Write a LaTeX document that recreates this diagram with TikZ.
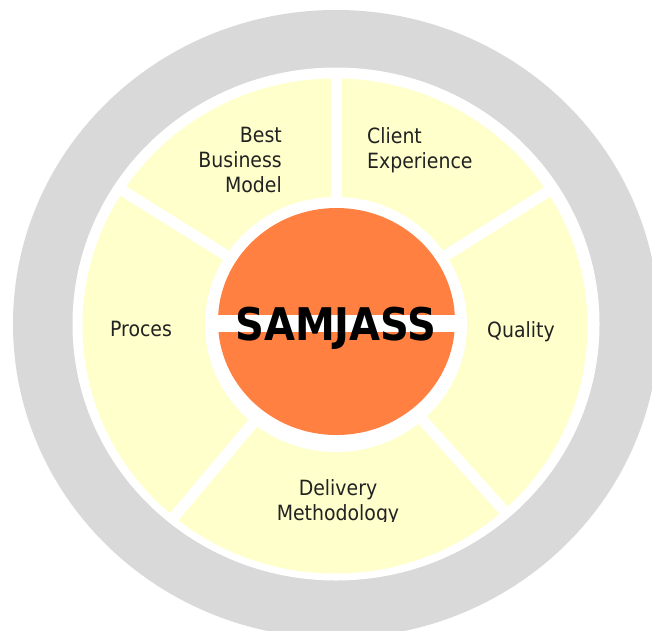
\documentclass[tikz,border=0pt]{standalone}
\usepackage{graphicx}
\usepackage{fontspec}
\setmainfont{DejaVu Sans Condensed}
\newfontfamily\corefont{DejaVu Sans}
\definecolor{ringgrey}{RGB}{217,217,217}
\definecolor{segyellow}{RGB}{255,255,204}
\definecolor{coreorange}{RGB}{255,128,64}
\definecolor{labelgrey}{RGB}{34,34,34}

\begin{document}
\begin{tikzpicture}[x=1pt, y=1pt]
\tikzset{
  seglabel/.style={text=labelgrey, inner sep=0pt, font=\fontsize{21}{25}\selectfont},
  corelabel/.style={text=black, inner sep=0pt, font=\corefont\bfseries\fontsize{45}{45}\selectfont},
  spoke/.style={white, line width=11pt}
}
\useasboundingbox (-336,-306) rectangle (316,324);
\clip (-336,-306) rectangle (316,324);
\fill[white] (-336,-306) rectangle (316,324);

% outer ring and the segment disc
\fill[ringgrey] (0,0) ellipse (323 and 314);
\fill[white] (0,0) ellipse (263.5 and 256.5);
\fill[segyellow] (-1,-2) ellipse (252.5 and 247.5);
\foreach \a in {90,32,-48,-130,148}
  \draw[spoke] (0,0) -- (\a:252);

% core
\fill[white] (0,-0.5) ellipse (131 and 127.5);
\fill[coreorange] (0.5,2.5) ellipse (118.5 and 113.5);
\fill[white] (-125,-8) rectangle (125,9);
\node[corelabel, anchor=base] (core) at (0,-16) {\scalebox{0.89}[1]{SAMJASS}};

\node[seglabel, align=right, anchor=north east] (best) at (-54,197) {Best\\Business\\Model};
\node[seglabel, align=left, anchor=north west] (client) at (31,197) {Client\\Experience};
\node[seglabel, anchor=base west] (quality) at (151,-13) {Quality};
\node[seglabel, anchor=base west] (proces) at (-226,-12) {Proces};
\begin{scope}
\clip (-200,-197) rectangle (200,-100);
\node[seglabel, align=center, anchor=north] (delivery) at (2,-155) {Delivery\\Methodology};
\end{scope}
\end{tikzpicture}
\end{document}
